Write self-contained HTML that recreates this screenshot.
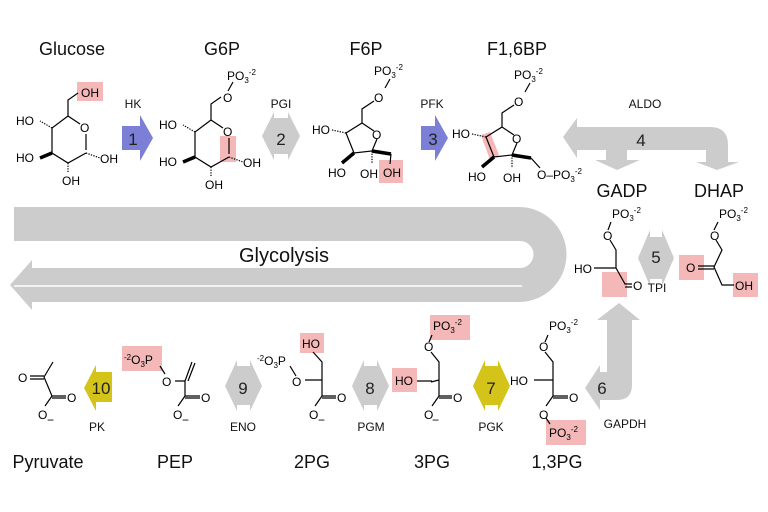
<!DOCTYPE html>
<html><head><meta charset="utf-8"><style>
html,body{margin:0;padding:0;background:#fff}
svg{display:block}
text{font-family:"Liberation Sans",sans-serif}
.n{font-size:18px;fill:#111;text-anchor:middle}
.e{font-size:12px;fill:#111;text-anchor:middle}
.c{font-size:12px;fill:#000}
.num{font-size:17px;fill:#222;text-anchor:middle}
.l{stroke:#000;stroke-width:1.2;fill:none}
.h{stroke:#000;stroke-width:1.2;stroke-dasharray:1.3 1.3;fill:none}
.w{stroke:#000;stroke-width:3.5;fill:none}
</style></head><body>
<svg width="768" height="512" viewBox="0 0 768 512" xmlns="http://www.w3.org/2000/svg">
<path d="M14,207 H519 A47.5,47.5 0 0 1 519,302 H32 L32,310 L10,285 L32,260 L32,268 H520 A13.5,13.5 0 0 0 520,241 H14 Z" fill="#cccccc"/>
<line x1="14" y1="286" x2="522" y2="286" stroke="#fff" stroke-width="1.5"/>
<text x="284" y="262" font-size="20" text-anchor="middle" fill="#111" style="font-family:'Liberation Sans',sans-serif">Glycolysis</text>

<path d="M563,137 L577,118 L577,127 H710 Q728,127 728,145 V162 H739 L717,170 L696,162 H706 V150 H627 V160 H640 L617,170 L595,160 H606 V150 H577 V158 Z" fill="#cccccc"/>
<path d="M597,320 L619,303 L640,320 H632 V385 Q632,400 617,400 H600 V410 L585,388 L600,365 V372 H607 V320 Z" fill="#cccccc"/>

<polygon points="122,126 140,126 140,115 153,138 140,161 140,150 122,150" fill="#7b80d6"/>
<polygon points="421,126 435,126 435,115 448,138 435,161 435,150 421,150" fill="#7b80d6"/>
<polygon points="262,136 274,112 274,118 288,118 288,112 300,136 288,160 288,154 274,154 274,160" fill="#cccccc"/>
<polygon points="638,258 650,230 650,237 662,237 662,230 674,258 662,286 662,279 650,279 650,286" fill="#cccccc"/>
<polygon points="473,386 485,360 485,366 498,366 498,360 510,386 498,411 498,405 485,405 485,411" fill="#d4c41a"/>
<polygon points="352,386 364,360 364,366 377,366 377,360 389,386 377,411 377,405 364,405 364,411" fill="#cccccc"/>
<polygon points="225,386 237,360 237,366 250,366 250,360 262,386 250,411 250,405 237,405 237,411" fill="#cccccc"/>
<polygon points="84,388 96,365 96,372 112,372 112,402 96,402 96,411" fill="#d4c41a"/>

<text class="num" x="133" y="145">1</text>
<text class="num" x="281" y="145">2</text>
<text class="num" x="433" y="145">3</text>
<text class="num" x="641" y="146">4</text>
<text class="num" x="656" y="263">5</text>
<text class="num" x="602" y="394">6</text>
<text class="num" x="491" y="394">7</text>
<text class="num" x="370" y="394">8</text>
<text class="num" x="243" y="394">9</text>
<text class="num" x="101" y="394">10</text>

<text class="n" x="72" y="55">Glucose</text>
<text class="n" x="222" y="55">G6P</text>
<text class="n" x="366" y="55">F6P</text>
<text class="n" x="517" y="55">F1,6BP</text>
<text class="n" x="622" y="197">GADP</text>
<text class="n" x="719" y="197">DHAP</text>
<text class="n" x="48" y="468">Pyruvate</text>
<text class="n" x="175" y="468">PEP</text>
<text class="n" x="312" y="468">2PG</text>
<text class="n" x="432" y="468">3PG</text>
<text class="n" x="557" y="468">1,3PG</text>

<text class="e" x="133" y="108">HK</text>
<text class="e" x="281" y="108">PGI</text>
<text class="e" x="432" y="108">PFK</text>
<text class="e" x="645" y="108">ALDO</text>
<text class="e" x="657" y="292">TPI</text>
<text class="e" x="97" y="431">PK</text>
<text class="e" x="243" y="431">ENO</text>
<text class="e" x="371" y="431">PGM</text>
<text class="e" x="491" y="431">PGK</text>
<text class="e" x="625" y="428">GAPDH</text>

<g fill="#f4b8b8">
<rect x="77" y="82" width="26" height="19"/>
<rect x="220" y="136" width="16" height="26"/>
<rect x="379" y="160" width="24" height="23"/>
<polygon points="481,135 490,132 499,155 490,160"/>
<rect x="602" y="272" width="25" height="25"/>
<rect x="679" y="255" width="25" height="25"/>
<rect x="733" y="273" width="25" height="24"/>
<rect x="430" y="315" width="40" height="25"/>
<rect x="392" y="368" width="25" height="24"/>
<rect x="546" y="420" width="40" height="25"/>
<rect x="300" y="333" width="24" height="20"/>
<rect x="122" y="346" width="40" height="25"/>
</g>

<g>
<path class="l" d="M68,116 V100 L78,93 M68,116 L80,124 M86,134 V150 M86,153 L68,163 L52,153 V128 L68,116"/>
<path class="h" d="M52,128 L40,121 M68,163 V172 M86,153 L100,158"/>
<path class="w" d="M52,153 L40,158"/>
<text class="c" x="80" y="132">O</text>
<text class="c" x="16" y="125">HO</text>
<text class="c" x="16" y="162">HO</text>
<text class="c" x="62" y="185">OH</text>
<text class="c" x="100" y="163">OH</text>
</g>
<text class="c" x="81" y="97">OH</text>
<g transform="translate(143,4)">
<path class="l" d="M68,116 V100 L78,93 M68,116 L80,124 M86,134 V150 M86,153 L68,163 L52,153 V128 L68,116"/>
<path class="h" d="M52,128 L40,121 M68,163 V172 M86,153 L100,158"/>
<path class="w" d="M52,153 L40,158"/>
<text class="c" x="80" y="132">O</text>
<text class="c" x="16" y="125">HO</text>
<text class="c" x="16" y="162">HO</text>
<text class="c" x="62" y="185">OH</text>
<text class="c" x="100" y="163">OH</text>
<text class="c" x="80" y="98">O</text>
<path class="l" d="M85,87 L90,78"/>
<text class="c" x="84" y="76">PO<tspan font-size="8" dy="3">3</tspan><tspan font-size="8" dy="-8">-2</tspan></text>
</g>
<g>
<path class="l" d="M502,127 L514,135 M517,143 L512,155 L494,157 L486,137 L502,127 V113 L514,105 M525,92 L530,83"/>
<path class="h" d="M486,137 L472,134 M512,155 V168"/>
<path class="w" d="M494,157 L482,167 M512,155 L531,158"/>
<path class="l" d="M531,158 L540,168"/>
<text class="c" x="512" y="143">O</text>
<text class="c" x="514" y="106">O</text>
<text class="c" x="514" y="79">PO<tspan font-size="8" dy="3">3</tspan><tspan font-size="8" dy="-8">-2</tspan></text>
<text class="c" x="452" y="138">HO</text>
<text class="c" x="468" y="181">HO</text>
<text class="c" x="503" y="182">OH</text>
<text class="c" x="537" y="179">O–PO<tspan font-size="8" dy="3">3</tspan><tspan font-size="8" dy="-8">-2</tspan></text>
</g>
<g transform="translate(-140,-4)">
<path class="l" d="M502,127 L514,135 M517,143 L512,155 L494,157 L486,137 L502,127 V113 L514,105 M525,92 L530,83"/>
<path class="h" d="M486,137 L472,134 M512,155 V168"/>
<path class="w" d="M494,157 L482,167 M512,155 L531,158"/>
<path class="l" d="M531,158 L530,168"/>
<text class="c" x="512" y="143">O</text>
<text class="c" x="514" y="106">O</text>
<text class="c" x="514" y="79">PO<tspan font-size="8" dy="3">3</tspan><tspan font-size="8" dy="-8">-2</tspan></text>
<text class="c" x="452" y="138">HO</text>
<text class="c" x="468" y="181">HO</text>
<text class="c" x="500" y="182">OH</text>
<text class="c" x="523" y="181">OH</text>
</g>

<text class="c" x="612" y="218">PO<tspan font-size="8" dy="3">3</tspan><tspan font-size="8" dy="-8">-2</tspan></text>
<path class="l" d="M611,222 L608,230 M610,240 L616,250 V268 L625,284 H632 M616,268 H594 M625,287 H632"/>
<text class="c" x="603" y="240">O</text>
<text class="c" x="574" y="273">HO</text>
<text class="c" x="633" y="290">O</text>
<text class="c" x="719" y="218">PO<tspan font-size="8" dy="3">3</tspan><tspan font-size="8" dy="-8">-2</tspan></text>
<path class="l" d="M718,222 L714,230 M716,240 L722,250 L714,267 L722,285 H734 M714,266 H698 M714,269 H698"/>
<text class="c" x="710" y="240">O</text>
<text class="c" x="686" y="272">O</text>
<text class="c" x="735" y="290">OH</text>

<text class="c" x="433" y="330">PO<tspan font-size="8" dy="3">3</tspan><tspan font-size="8" dy="-8">-2</tspan></text>
<path class="l" d="M432,335 L429,342 M431,352 L439,362 V380 L431,382 M439,380 L439,396 L452,396 M439,398 L452,398 M439,396 L432,406 M417,381 H432"/>
<text class="c" x="424" y="351">O</text>
<text class="c" x="395" y="385">HO</text>
<text class="c" x="453" y="402">O</text>
<text class="c" x="424" y="419">O</text><text class="c" x="432" y="424" font-size="9">−</text>
<text class="c" x="549" y="330">PO<tspan font-size="8" dy="3">3</tspan><tspan font-size="8" dy="-8">-2</tspan></text>
<path class="l" d="M548,335 L545,342 M545,352 L553,362 V380 H534 M553,380 L553,396 L568,396 M553,398 L568,398 M553,396 L546,406 M546,418 L550,424"/>
<text class="c" x="539" y="351">O</text>
<text class="c" x="510" y="385">HO</text>
<text class="c" x="569" y="402">O</text>
<text class="c" x="539" y="419">O</text>
<text class="c" x="549" y="437">PO<tspan font-size="8" dy="3">3</tspan><tspan font-size="8" dy="-8">-2</tspan></text>
<text class="c" x="302" y="348">HO</text>
<path class="l" d="M313,352 L322,362 V380 L305,380 M322,380 L322,396 L336,396 M322,398 L336,398 M322,396 L315,406 M296,376 L290,366"/>
<text class="c" x="292" y="386">O</text>
<text class="c" x="257" y="365"><tspan font-size="8" dy="-4">-2</tspan><tspan dy="4">O</tspan><tspan font-size="8" dy="3">3</tspan><tspan dy="-3">P</tspan></text>
<text class="c" x="337" y="402">O</text>
<text class="c" x="309" y="419">O</text><text class="c" x="318" y="424" font-size="9">−</text>
<text class="c" x="124" y="364"><tspan font-size="8" dy="-4">-2</tspan><tspan dy="4">O</tspan><tspan font-size="8" dy="3">3</tspan><tspan dy="-3">P</tspan></text>
<path class="l" d="M160,366 L165,374 M175,381 H185 L185,396 L200,396 M185,398 L200,398 M185,396 L178,406 M185,381 L192,362 M188,381 L195,363"/>
<text class="c" x="162" y="386">O</text>
<text class="c" x="201" y="402">O</text>
<text class="c" x="173" y="419">O</text><text class="c" x="182" y="424" font-size="9">−</text>
<path class="l" d="M30,376 H44 M30,379 H44 M44,377 L53,362 M44,377 L52,396 L66,396 M52,398 L66,398 M52,396 L45,406"/>
<text class="c" x="18" y="382">O</text>
<text class="c" x="67" y="402">O</text>
<text class="c" x="38" y="419">O</text><text class="c" x="47" y="424" font-size="9">−</text>
</svg>
</body></html>
